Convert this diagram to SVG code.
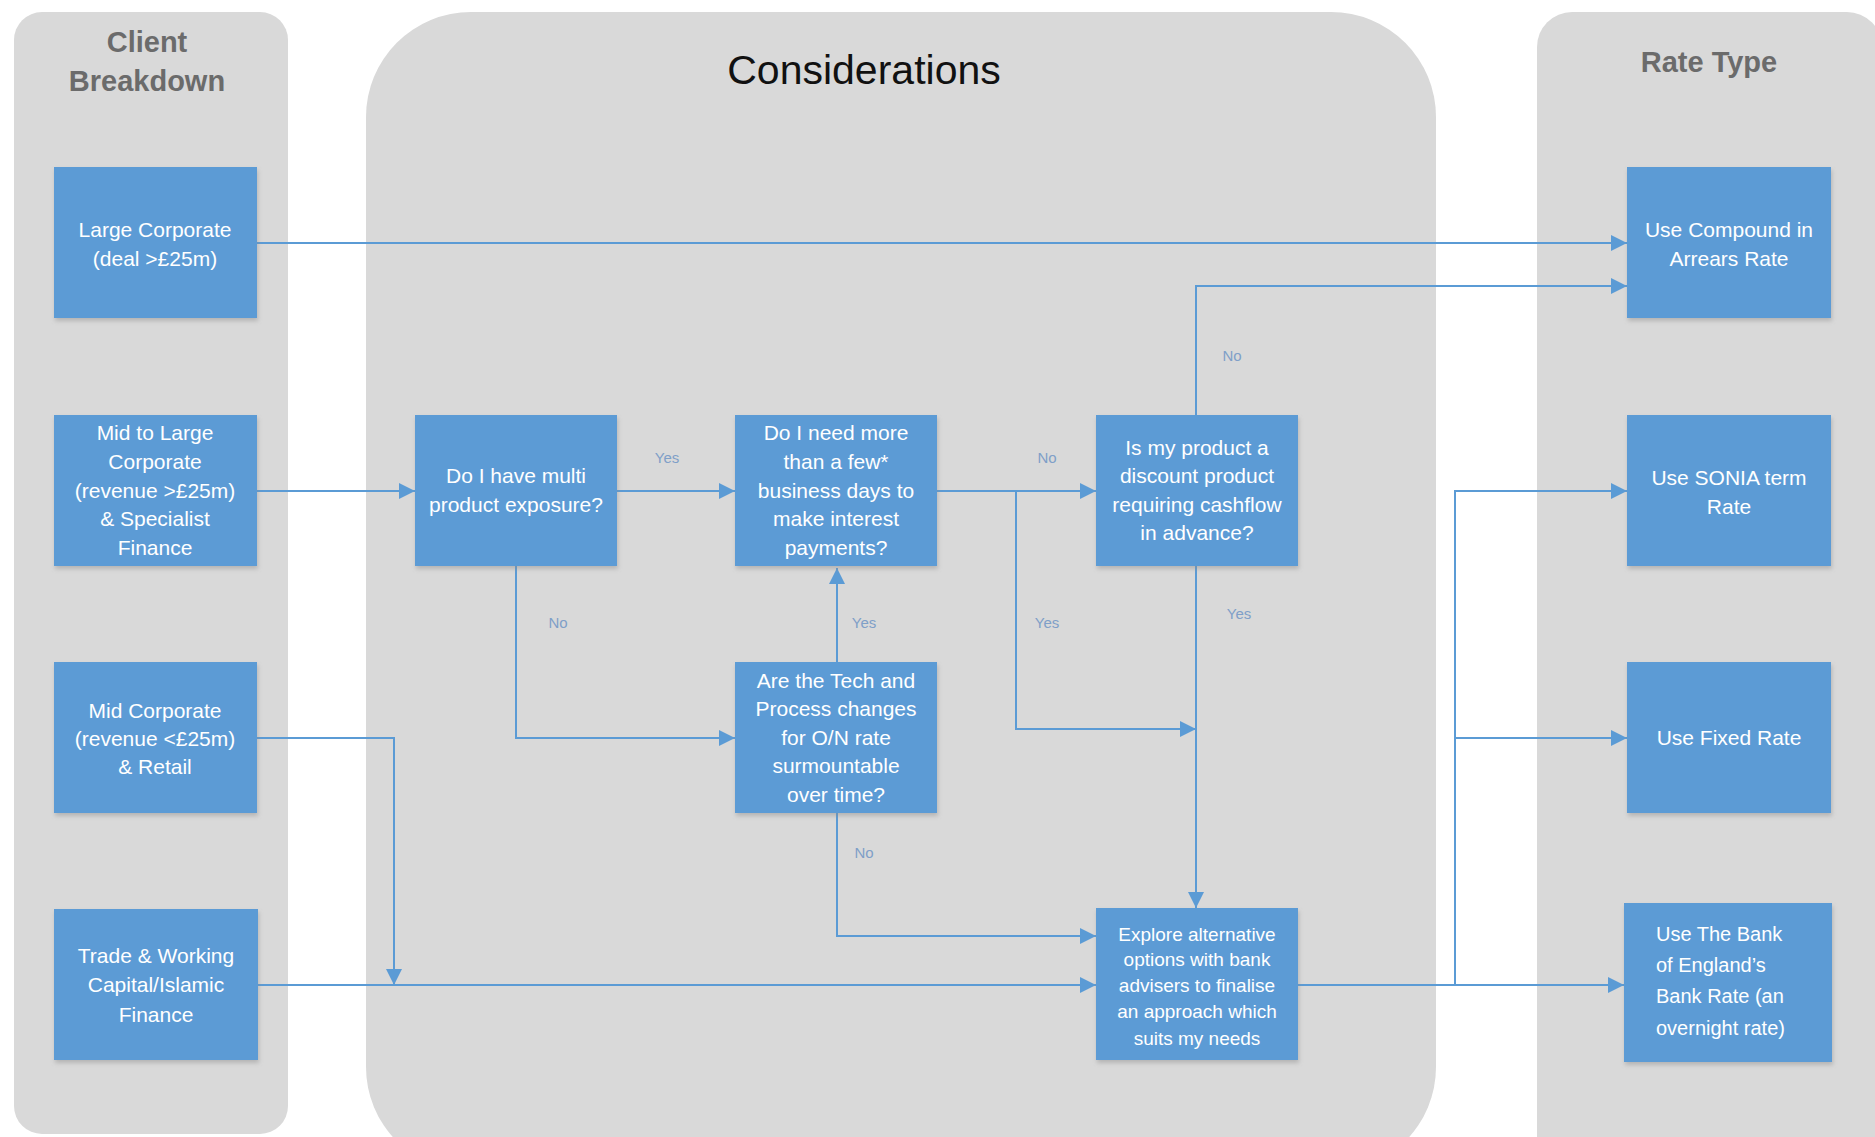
<svg xmlns="http://www.w3.org/2000/svg" width="1875" height="1137" viewBox="0 0 1875 1137">
<defs>
<style>
.panel{fill:#d9d9d9}
.ptitle{font-family:"Liberation Sans",Arial,sans-serif;font-weight:bold;font-size:29px;fill:#6b6b6b;text-anchor:middle}
.box{fill:#5b9bd5;filter:url(#sh)}
.bt{font-family:"Liberation Sans",Arial,sans-serif;font-size:21px;fill:#ffffff;text-anchor:middle}
.bs{font-size:19px}
.btl{font-family:"Liberation Sans",Arial,sans-serif;font-size:20px;fill:#ffffff;text-anchor:start}
.conn{fill:none;stroke:#5b9bd5;stroke-width:2}
.lbl{font-family:"Liberation Sans",Arial,sans-serif;font-size:15px;fill:#7f9fc8;text-anchor:middle}
</style>
<marker id="arr" markerUnits="userSpaceOnUse" markerWidth="17" markerHeight="16" refX="16" refY="8" orient="auto">
<path d="M0,0 L16,8 L0,16 z" fill="#5b9bd5"/>
</marker>
<filter id="sh" x="-10%" y="-10%" width="125%" height="130%">
<feDropShadow dx="1" dy="3" stdDeviation="2" flood-color="#8a8a8a" flood-opacity="0.45"/>
</filter>
</defs>
<rect width="1875" height="1137" fill="#ffffff"/>

<g id="panels">
<rect class="panel" x="14" y="12" width="274" height="1122" rx="28"/>
<rect class="panel" x="366" y="12" width="1070" height="1160" rx="105"/>
<rect class="panel" x="1537" y="12" width="345" height="1160" rx="35"/>
<text class="ptitle" x="147" y="52">Client</text>
<text class="ptitle" x="147" y="91">Breakdown</text>
<text x="864" y="84" font-family="Liberation Sans,Arial,sans-serif" font-size="41" fill="#111111" text-anchor="middle">Considerations</text>
<text class="ptitle" x="1709" y="72">Rate Type</text>
</g>

<g id="connectors">
<path class="conn" d="M257,243 H1627" marker-end="url(#arr)"/>
<path class="conn" d="M257,491 H415" marker-end="url(#arr)"/>
<path class="conn" d="M617,491 H735" marker-end="url(#arr)"/>
<path class="conn" d="M937,491 H1096" marker-end="url(#arr)"/>
<path class="conn" d="M1016,491 V729 H1196" marker-end="url(#arr)"/>
<path class="conn" d="M1196,415 V286 H1627" marker-end="url(#arr)"/>
<path class="conn" d="M1196,566 V908" marker-end="url(#arr)"/>
<path class="conn" d="M516,566 V738 H735" marker-end="url(#arr)"/>
<path class="conn" d="M837,662 V568" marker-end="url(#arr)"/>
<path class="conn" d="M837,813 V936 H1096" marker-end="url(#arr)"/>
<path class="conn" d="M257,738 H394 V985" marker-end="url(#arr)"/>
<path class="conn" d="M258,985 H1096" marker-end="url(#arr)"/>
<path class="conn" d="M1298,985 H1624" marker-end="url(#arr)"/>
<path class="conn" d="M1455,985 V491 H1627" marker-end="url(#arr)"/>
<path class="conn" d="M1455,738 H1627" marker-end="url(#arr)"/>
<text class="lbl" x="667" y="463">Yes</text>
<text class="lbl" x="1047" y="463">No</text>
<text class="lbl" x="1047" y="628">Yes</text>
<text class="lbl" x="1232" y="361">No</text>
<text class="lbl" x="1239" y="619">Yes</text>
<text class="lbl" x="558" y="628">No</text>
<text class="lbl" x="864" y="628">Yes</text>
<text class="lbl" x="864" y="858">No</text>
</g>

<g id="n-large-corp">
<rect class="box" x="54" y="167" width="203" height="151"/>
<text class="bt" x="155" y="237">Large Corporate</text>
<text class="bt" x="155" y="266">(deal &gt;£25m)</text>
</g>
<g id="n-mid-large">
<rect class="box" x="54" y="415" width="203" height="151"/>
<text class="bt" x="155" y="440">Mid to Large</text>
<text class="bt" x="155" y="469">Corporate</text>
<text class="bt" x="155" y="498">(revenue &gt;£25m)</text>
<text class="bt" x="155" y="526">&amp; Specialist</text>
<text class="bt" x="155" y="555">Finance</text>
</g>
<g id="n-mid-corp">
<rect class="box" x="54" y="662" width="203" height="151"/>
<text class="bt" x="155" y="718">Mid Corporate</text>
<text class="bt" x="155" y="746">(revenue &lt;£25m)</text>
<text class="bt" x="155" y="774">&amp; Retail</text>
</g>
<g id="n-trade">
<rect class="box" x="54" y="909" width="204" height="151"/>
<text class="bt" x="156" y="963">Trade &amp; Working</text>
<text class="bt" x="156" y="992">Capital/Islamic</text>
<text class="bt" x="156" y="1022">Finance</text>
</g>

<g id="n-multi">
<rect class="box" x="415" y="415" width="202" height="151"/>
<text class="bt" x="516" y="483">Do I have multi</text>
<text class="bt" x="516" y="512">product exposure?</text>
</g>
<g id="n-days">
<rect class="box" x="735" y="415" width="202" height="151"/>
<text class="bt" x="836" y="440">Do I need more</text>
<text class="bt" x="836" y="469">than a few*</text>
<text class="bt" x="836" y="498">business days to</text>
<text class="bt" x="836" y="526">make interest</text>
<text class="bt" x="836" y="555">payments?</text>
</g>
<g id="n-discount">
<rect class="box" x="1096" y="415" width="202" height="151"/>
<text class="bt" x="1197" y="455">Is my product a</text>
<text class="bt" x="1197" y="483">discount product</text>
<text class="bt" x="1197" y="512">requiring cashflow</text>
<text class="bt" x="1197" y="540">in advance?</text>
</g>
<g id="n-tech">
<rect class="box" x="735" y="662" width="202" height="151"/>
<text class="bt" x="836" y="688">Are the Tech and</text>
<text class="bt" x="836" y="716">Process changes</text>
<text class="bt" x="836" y="745">for O/N rate</text>
<text class="bt" x="836" y="773">surmountable</text>
<text class="bt" x="836" y="802">over time?</text>
</g>
<g id="n-explore">
<rect class="box" x="1096" y="908" width="202" height="152"/>
<text class="bt bs" x="1197" y="941">Explore alternative</text>
<text class="bt bs" x="1197" y="966">options with bank</text>
<text class="bt bs" x="1197" y="992">advisers to finalise</text>
<text class="bt bs" x="1197" y="1018">an approach which</text>
<text class="bt bs" x="1197" y="1045">suits my needs</text>
</g>

<g id="n-compound">
<rect class="box" x="1627" y="167" width="204" height="151"/>
<text class="bt" x="1729" y="237">Use Compound in</text>
<text class="bt" x="1729" y="266">Arrears Rate</text>
</g>
<g id="n-sonia">
<rect class="box" x="1627" y="415" width="204" height="151"/>
<text class="bt" x="1729" y="485">Use SONIA term</text>
<text class="bt" x="1729" y="514">Rate</text>
</g>
<g id="n-fixed">
<rect class="box" x="1627" y="662" width="204" height="151"/>
<text class="bt" x="1729" y="745">Use Fixed Rate</text>
</g>
<g id="n-bank">
<rect class="box" x="1624" y="903" width="208" height="159"/>
<text class="btl" x="1656" y="941">Use The Bank</text>
<text class="btl" x="1656" y="972">of England’s</text>
<text class="btl" x="1656" y="1003">Bank Rate (an</text>
<text class="btl" x="1656" y="1035">overnight rate)</text>
</g>
</svg>
